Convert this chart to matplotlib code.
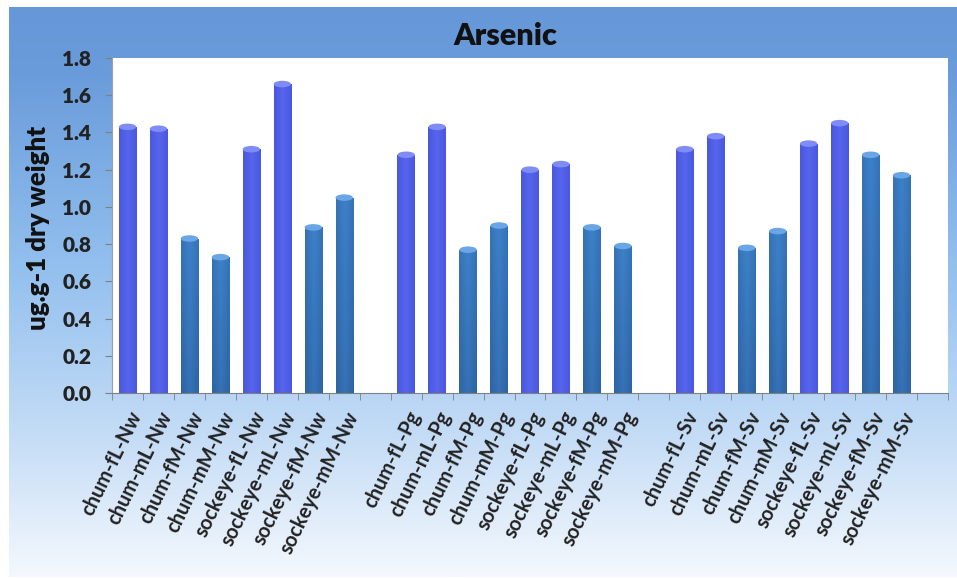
import numpy as np
import matplotlib.pyplot as plt
from matplotlib.colors import LinearSegmentedColormap
from matplotlib.patches import Ellipse

plt.rcParams['font.family'] = ['Lato', 'DejaVu Sans']

# arsenic values by fish group and site
groups = ['fL', 'mL', 'fM', 'mM']
nw_vals = [1.43, 1.42, 0.83, 0.73, 1.31, 1.66, 0.89, 1.05]
pg_vals = [1.28, 1.43, 0.77, 0.90, 1.20, 1.23, 0.89, 0.79]
sv_vals = [1.31, 1.38, 0.78, 0.87, 1.34, 1.45, 1.28, 1.17]
sites = ['Nw', 'Pg', 'Sv']
species = ['chum', 'sockeye']

labels = []
values = []
positions = []
pos = 0
for site, vals in zip(sites, [nw_vals, pg_vals, sv_vals]):
    i = 0
    for sp in species:
        for g in groups:
            labels.append(f'{sp}-{g}-{site}')
            values.append(vals[i])
            positions.append(pos)
            i += 1
            pos += 1
    pos += 1  # empty slot between sites

W, H = 957, 578
fig = plt.figure(figsize=(W / 100, H / 100), dpi=100)
fig.patch.set_facecolor('white')

# background panel with a vertical blue gradient
bg = fig.add_axes([9 / W, 1 - 577 / H, (957 - 9) / W, (577 - 7) / H], zorder=0)
bg_cmap = LinearSegmentedColormap.from_list(
    'bg', [(0.0, '#6697d8'), (0.12, '#6a9cdb'), (0.45, '#92bfee'),
           (0.75, '#c4dcf6'), (1.0, '#f4f8fd')])
bg.imshow(np.linspace(0, 1, 256).reshape(-1, 1), aspect='auto', cmap=bg_cmap,
          extent=[0, 1, 0, 1])
bg.set_axis_off()

ax = fig.add_axes([112 / W, 1 - 393 / H, (948 - 112) / W, (393 - 58) / H], zorder=1)
ax.set_facecolor('white')

bright = LinearSegmentedColormap.from_list('b1', ['#4a58e0', '#5665ec', '#4a58e0'])
steel = LinearSegmentedColormap.from_list('b2', ['#2f69a8', '#3f82cc', '#2f69a8'])
steel_v = LinearSegmentedColormap.from_list('v2', ['#2c5f9c', '#3d80c8'])

width = 0.56
bars = ax.bar(positions, values, width=width, color='none', edgecolor='none', zorder=2)
for lab, bar in zip(labels, bars):
    is_l = lab.split('-')[1] in ('fL', 'mL')
    x0, w, h = bar.get_x(), bar.get_width(), bar.get_height()
    cm_h = bright if is_l else steel
    # horizontal shading gives a rounded, cylinder-like look
    shade = np.linspace(0, 1, 64).reshape(1, -1)
    im = ax.imshow(shade, aspect='auto', cmap=cm_h, extent=[x0, x0 + w, 0, h],
                   zorder=2, interpolation='bilinear')
    im.set_clip_path(bar)
    if not is_l:
        vert = np.linspace(0, 1, 64).reshape(-1, 1)
        im2 = ax.imshow(vert, aspect='auto', cmap=steel_v, extent=[x0, x0 + w, 0, h],
                        zorder=2.1, alpha=0.45, origin='lower', interpolation='bilinear')
        im2.set_clip_path(bar)
    cap = Ellipse((x0 + w / 2, h), w, 0.035,
                  facecolor='#7f8cf5' if is_l else '#6aa6e6', edgecolor='none', zorder=3)
    ax.add_patch(cap)

ax.set_xlim(-0.5, pos - 1 + 0.5)
ax.set_ylim(0, 1.8)
ax.set_yticks(np.arange(0, 1.81, 0.2))
ax.set_yticklabels([f'{v:.1f}' for v in np.arange(0, 1.81, 0.2)],
                   fontsize=15, fontweight='heavy', color='#222222')

ax.set_xticks(positions)
ax.set_xticklabels(labels, rotation=64, ha='right', rotation_mode='anchor',
                   fontsize=14.5, fontweight='bold', color='#222222')
ax.set_xticks(np.arange(-0.5, pos, 1.0), minor=True)
ax.tick_params(axis='x', which='major', length=0, pad=11)
ax.tick_params(axis='x', which='minor', length=5, color='#808080', direction='out')
ax.tick_params(axis='y', length=5, color='#808080', pad=10)

for side in ('top', 'right'):
    ax.spines[side].set_visible(False)
ax.spines['left'].set_color('#a0a0a0')
ax.spines['bottom'].set_color('#808080')

fig.text(38 / W, 1 - 228 / H, 'ug.g-1 dry weight', rotation=90, ha='center', va='center',
         fontsize=18.5, fontweight='heavy', color='#111111')
fig.text(505 / W, 1 - 36 / H, 'Arsenic', ha='center', va='center',
         fontsize=22, fontweight='heavy', color='#111111')

fig.savefig('out.png', dpi=100, facecolor=fig.get_facecolor())
